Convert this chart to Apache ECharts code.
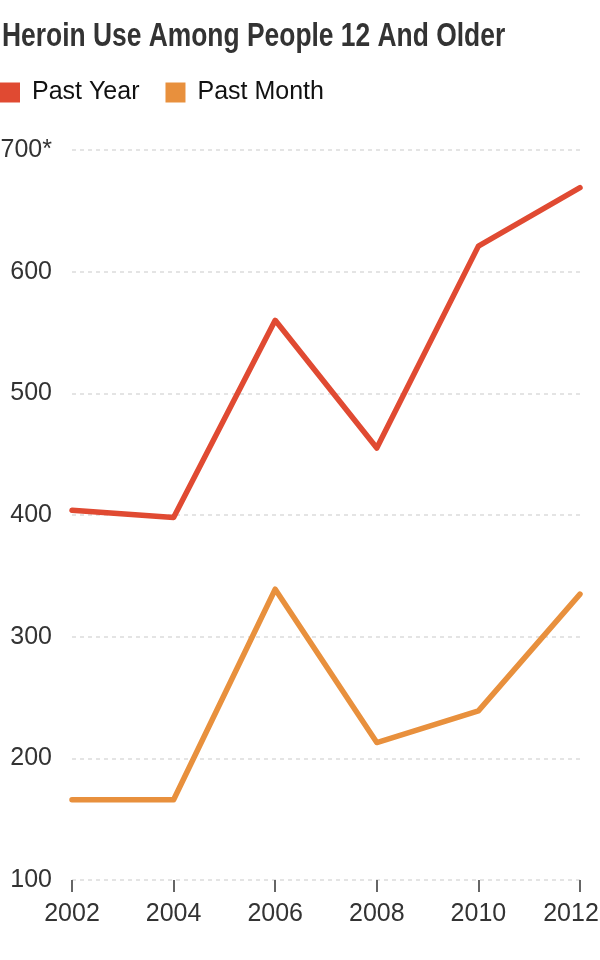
<!DOCTYPE html>
<html><head><meta charset="utf-8">
<script src="https://cdn.jsdelivr.net/npm/echarts@6/dist/echarts.min.js"></script>
<style>html,body{margin:0;padding:0;background:#fff}#c{width:600px;height:960px}</style>
</head><body><div id="c"></div>
<script>
const titleText = 'Heroin Use Among People 12 And Older';
const years = ['2002','2004','2006','2008','2010','2012'];
const pastYear = [404, 398, 560, 455, 621, 669];
const pastMonth = [166, 166, 339, 213, 239, 335];
const yTicks = [100, 200, 300, 400, 500, 600, 700];

const FONT = '"Liberation Sans", Arial, sans-serif';
const chart = echarts.init(document.getElementById('c'));
chart.setOption({
  animation: false,
  graphic: [{
    type: 'text', x: 2, y: 37, scaleX: 0.8, scaleY: 1,
    style: { text: titleText, font: 'bold 33px "Liberation Sans", Arial, sans-serif',
             fill: '#333', textAlign: 'left', textVerticalAlign: 'middle', verticalAlign: 'middle' }
  }],
  legend: {
    left: 0, top: 80, icon: 'rect', itemWidth: 20, itemHeight: 20, itemGap: 26, padding: 0,
    textStyle: { fontFamily: FONT, fontSize: 25, color: '#111', padding: [0,0,0,7] },
    data: ['Past Year', 'Past Month']
  },
  grid: { left: 72, right: 20, top: 150, bottom: 80, outerBoundsMode: 'none' },
  xAxis: {
    type: 'category', data: years, boundaryGap: false,
    axisLine: { show: false },
    axisTick: { show: true, interval: 0, length: 12, lineStyle: { color: '#666', width: 2 } },
    axisLabel: {
      interval: 0, hideOverlap: false,
      fontFamily: FONT, fontSize: 25, color: '#333', margin: 22,
      formatter: (v, i) => i === years.length - 1 ? '{e|' + v + '}' : v,
      rich: { e: { fontFamily: FONT, fontSize: 25, color: '#333', padding: [0, 18, 0, 0] } }
    }
  },
  yAxis: {
    type: 'value', min: 100, max: 700, interval: 100,
    axisLine: { show: false }, axisTick: { show: false },
    axisLabel: {
      fontFamily: FONT, fontSize: 25, color: '#333', margin: 20,
      formatter: v => yTicks.includes(v) ? (v === 700 ? '700*' : String(v)) : ''
    },
    splitLine: { lineStyle: { color: '#dcdcdc', type: [4, 4], width: 1.5 } }
  },
  series: [
    { name: 'Past Year', type: 'line', data: pastYear, symbol: 'none',
      lineStyle: { color: '#e04a32', width: 5.5, cap: 'round', join: 'round' }, itemStyle: { color: '#e04a32' } },
    { name: 'Past Month', type: 'line', data: pastMonth, symbol: 'none',
      lineStyle: { color: '#e8903d', width: 5.5, cap: 'round', join: 'round' }, itemStyle: { color: '#e8903d' } }
  ]
});
</script></body></html>
